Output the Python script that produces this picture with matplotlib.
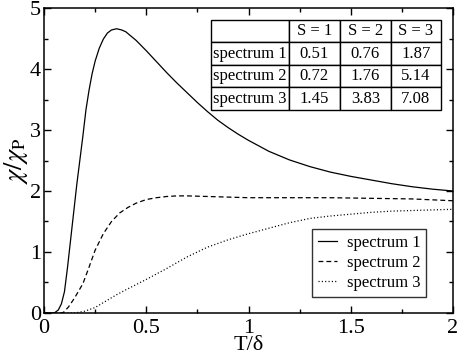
import matplotlib
matplotlib.use('Agg')
import matplotlib.pyplot as plt
from matplotlib.ticker import MultipleLocator

plt.rcParams['font.family'] = ['Liberation Serif', 'DejaVu Serif']
plt.rcParams['mathtext.fontset'] = 'stix'
plt.rcParams['lines.scale_dashes'] = False

# curves
t1 = [0, 0.03, 0.05, 0.07, 0.085, 0.10, 0.115, 0.13, 0.145, 0.16, 0.175, 0.19, 0.205, 0.22,
      0.235, 0.25, 0.27, 0.29, 0.31, 0.33, 0.355, 0.38, 0.4, 0.45, 0.5, 0.55, 0.6, 0.65,
      0.7, 0.75, 0.8, 0.85, 0.9, 0.95, 1.0, 1.1, 1.2, 1.3, 1.4, 1.5, 1.6, 1.7, 1.8, 1.9, 2.0]
s1 = [0, 0, 0.0, 0.05, 0.15, 0.35, 0.75, 1.2, 1.65, 2.1, 2.5, 2.9, 3.33, 3.65,
      3.92, 4.13, 4.34, 4.49, 4.59, 4.64, 4.66, 4.64, 4.61, 4.47, 4.30, 4.12, 3.94, 3.77,
      3.61, 3.45, 3.30, 3.16, 3.04, 2.93, 2.83, 2.65, 2.51, 2.40, 2.31, 2.24, 2.18, 2.12,
      2.07, 2.03, 2.0]

t2 = [0, 0.08, 0.095, 0.12, 0.15, 0.19, 0.22, 0.25, 0.29, 0.33, 0.37, 0.41, 0.45, 0.5,
      0.55, 0.6, 0.65, 0.7, 0.8, 0.9, 1.0, 1.2, 1.4, 1.6, 1.8, 2.0]
s2 = [0, 0, 0.01, 0.1, 0.25, 0.48, 0.75, 1.03, 1.3, 1.50, 1.64, 1.73, 1.80, 1.86,
      1.89, 1.91, 1.92, 1.92, 1.91, 1.90, 1.89, 1.89, 1.89, 1.88, 1.87, 1.84]

t3 = [0, 0.15, 0.2, 0.25, 0.3, 0.35, 0.4, 0.5, 0.6, 0.7, 0.8, 0.9, 1.0, 1.1, 1.2, 1.3,
      1.4, 1.5, 1.6, 1.7, 1.8, 1.9, 2.0]
s3 = [0, 0, 0.03, 0.09, 0.19, 0.29, 0.38, 0.55, 0.73, 0.92, 1.08, 1.2, 1.3, 1.39, 1.48, 1.55,
      1.59, 1.62, 1.65, 1.67, 1.68, 1.69, 1.70]

labels = ['spectrum 1', 'spectrum 2', 'spectrum 3']

# inset table
col_labels = ['', 'S = 1', 'S = 2', 'S = 3']
row_labels = ['spectrum 1', 'spectrum 2', 'spectrum 3']
tab_vals = [['0.51', '0.76', '1.87'],
            ['0.72', '1.76', '5.14'],
            ['1.45', '3.83', '7.08']]

fig = plt.figure(figsize=(4.6, 3.56), dpi=100)
ax = fig.add_axes([0.0957, 0.1208, 0.8891, 0.8567])

ax.plot(t1, s1, color='black', lw=0.9, label=labels[0])
ax.plot(t2, s2, color='black', lw=0.9, ls=(0, (3.5, 2.2)), label=labels[1])
ax.plot(t3, s3, color='black', lw=0.9, ls=(0, (0.8, 1.6)), label=labels[2])

ax.set_xlim(0, 2)
ax.set_ylim(0, 5)
ax.xaxis.set_major_locator(MultipleLocator(0.5))
ax.xaxis.set_minor_locator(MultipleLocator(0.25))
ax.yaxis.set_major_locator(MultipleLocator(1))
ax.yaxis.set_minor_locator(MultipleLocator(0.5))
ax.set_xticks([0, 0.5, 1, 1.5, 2])
ax.set_xticklabels(['0', '0.5', '1', '1.5', '2'])
ax.tick_params(which='both', direction='in', top=True, right=True, labelsize=16, width=1)
ax.tick_params(which='major', length=5)
ax.tick_params(which='minor', length=3)
ax.tick_params(axis='x', which='major', pad=4)
ax.tick_params(axis='y', which='major', pad=2)
for sp in ax.spines.values():
    sp.set_linewidth(1.1)

ax.set_xlabel('T/δ', fontsize=16, labelpad=-1)
ax.set_ylabel(r'$\chi/\chi_\mathrm{P}$', fontsize=19, labelpad=0)

leg = ax.legend(loc='lower right', bbox_to_anchor=(0.934, 0.052), borderaxespad=0,
                fontsize=12, frameon=True, fancybox=False, edgecolor='black',
                handlelength=1.1, handletextpad=0.6, labelspacing=0.25, borderpad=0.35)
leg.get_frame().set_linewidth(1.0)

cells = [[''] + col_labels[1:]] + [[row_labels[i]] + tab_vals[i] for i in range(3)]
tb = ax.table(cellText=cells, cellLoc='center',
              colWidths=[0.339, 0.222, 0.222, 0.217],
              bbox=[0.408, 0.666, 0.562, 0.295])
tb.auto_set_font_size(False)
tb.set_fontsize(12)
for cell in tb.get_celld().values():
    cell.set_linewidth(1.0)
    cell.set_edgecolor('black')
    cell.PAD = 0.03

fig.savefig('out.png', dpi=100)
